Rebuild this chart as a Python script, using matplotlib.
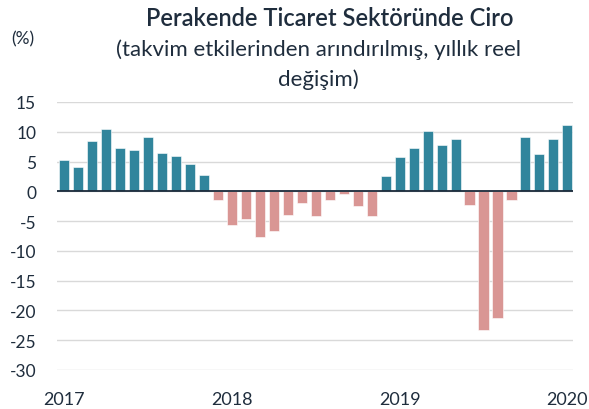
import matplotlib

matplotlib.use("Agg")

import matplotlib.pyplot as plt
import numpy as np

plt.rcParams["font.family"] = ["Lato", "DejaVu Sans"]
plt.rcParams["axes.unicode_minus"] = False

# monthly yoy change, Jan 2017 - Jan 2020
values = [
    5.3, 4.1, 8.5, 10.4, 7.3, 7.0, 9.2, 6.5, 6.0, 4.6, 2.7, -1.5,
    -5.7, -4.7, -7.7, -6.7, -4.0, -1.9, -4.2, -1.4, -0.4, -2.5, -4.2, 2.6,
    5.8, 7.3, 10.2, 7.8, 8.8, -2.3, -23.2, -21.2, -1.4, 9.2, 6.3, 8.8,
    11.2,
]
year_labels = ["2017", "2018", "2019", "2020"]
year_positions = [0, 12, 24, 36]
y_ticks = [15, 10, 5, 0, -5, -10, -15, -20, -25, -30]

BLUE = "#31859c"
PINK = "#d99694"
TEXT = "#1f2d3d"

fig = plt.figure(figsize=(5.89, 4.10), dpi=100)
ax = fig.add_axes([57 / 589, 39 / 410, (573 - 57) / 589, (371 - 103) / 410])

x = np.arange(len(values))
colors = [BLUE if v >= 0 else PINK for v in values]
ax.bar(x, values, width=0.72, color=colors, edgecolor="white", linewidth=0.4, zorder=3)
ax.axhline(0, color="#1b2a3a", linewidth=1.3, zorder=4)

ax.set_ylim(-30, 15)
ax.set_xlim(-0.5, 36.4)
ax.set_yticks(y_ticks)
ax.set_xticks(year_positions)
ax.set_xticklabels(year_labels)
ax.grid(axis="y", color="#d9d9d9", linewidth=1.0, zorder=0)
ax.tick_params(length=0, colors=TEXT)
ax.tick_params(axis="y", labelsize=12.5, pad=15)
ax.tick_params(axis="x", labelsize=13, pad=15)
for spine in ax.spines.values():
    spine.set_visible(False)

fig.text(0.56, 0.955, "Perakende Ticaret Sektöründe Ciro", ha="center", va="center",
         fontsize=17, fontweight="semibold", color=TEXT)
fig.text(0.54, 0.878, "(takvim etkilerinden arındırılmış, yıllık reel", ha="center",
         va="center", fontsize=16, color=TEXT)
fig.text(0.54, 0.805, "değişim)", ha="center", va="center", fontsize=16, color=TEXT)
fig.text(0.038, 0.905, "(%)", ha="center", va="center", fontsize=12.5, color=TEXT)

fig.savefig("out.png", dpi=100)
